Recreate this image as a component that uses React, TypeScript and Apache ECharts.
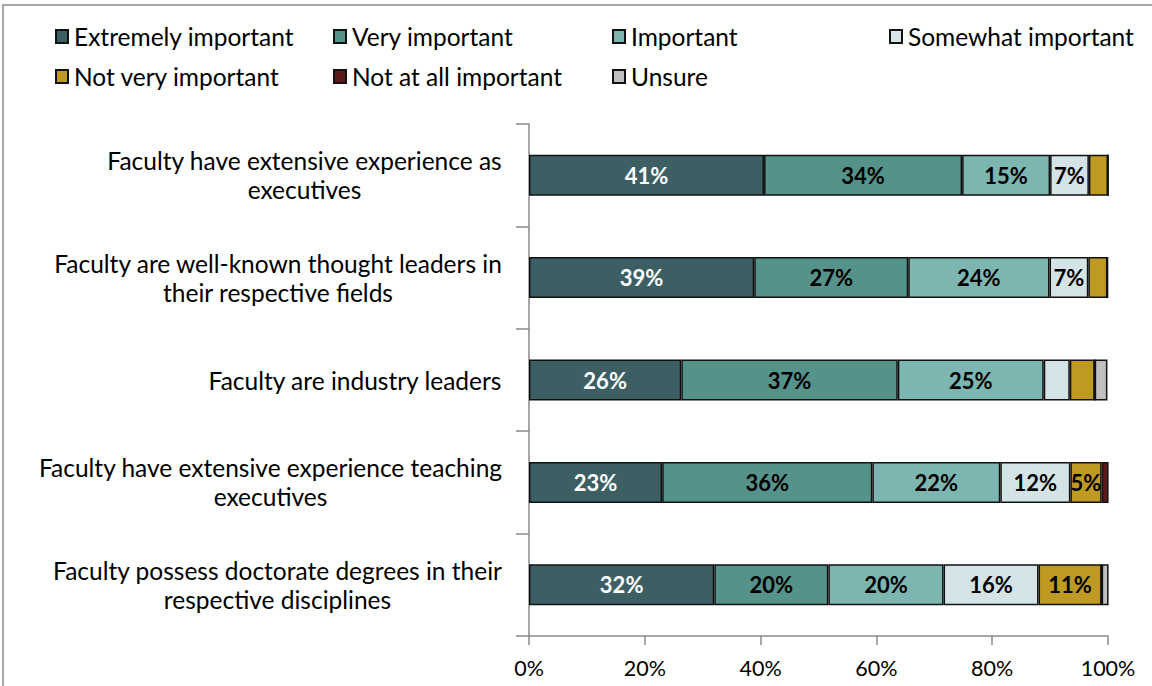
import React, { useEffect, useRef } from "react";
import * as echarts from "echarts";

const categories = [
  "Faculty have extensive experience as\nexecutives",
  "Faculty are well-known thought leaders in\ntheir respective fields",
  "Faculty are industry leaders",
  "Faculty have extensive experience teaching\nexecutives",
  "Faculty possess doctorate degrees in their\nrespective disciplines",
];

const seriesNames = [
  "Extremely important",
  "Very important",
  "Important",
  "Somewhat important",
  "Not very important",
  "Not at all important",
  "Unsure",
];

const extremely = [40.6, 38.9, 26.3, 23.0, 32.0];
const very = [34.2, 26.6, 37.4, 36.3, 19.7];
const important = [15.2, 24.4, 25.2, 22.1, 19.9];
const somewhat = [6.7, 6.7, 4.5, 12.1, 16.4];
const notVery = [3.3, 3.3, 4.3, 5.4, 10.9];
const notAtAll = [0, 0, 0, 1.2, 0];
const unsure = [0, 0, 2.2, 0, 1.2];

const seriesValues = [extremely, very, important, somewhat, notVery, notAtAll, unsure];
const colors = ["#3D5F64", "#55928A", "#7DB6B0", "#D3E3E6", "#BE9A22", "#5A1A1A", "#BFBFBF"];
const xTicks = [0, 20, 40, 60, 80, 100];

const FONT = "Lato";

export default function App() {
  const ref = useRef<HTMLDivElement>(null);
  useEffect(() => {
    if (!ref.current) return;
    const chart = echarts.init(ref.current, undefined, { renderer: "svg" });

    const catFontSize = 24.5;
    const canvas = document.createElement("canvas");
    const ctx = canvas.getContext("2d")!;
    ctx.font = `${catFontSize}px "${FONT}"`;
    const rich: any = {};
    categories.forEach((c, i) => {
      const w = Math.max(...c.split("\n").map((l) => ctx.measureText(l).width));
      rich["r" + i] = {
        width: Math.ceil(w) + 1,
        align: "center",
        fontSize: catFontSize,
        fontFamily: FONT,
        color: "#000",
        lineHeight: 29,
      };
    });

    const legendPos = [
      [55, 24],
      [333, 24],
      [612, 24],
      [889, 24],
      [55, 64],
      [333, 64],
      [612, 64],
    ];

    chart.setOption({
      animation: false,
      textStyle: { fontFamily: FONT },
      graphic: [
        {
          type: "rect",
          shape: { x: 3, y: 5, width: 1200, height: 720 },
          style: { fill: "none", stroke: "#8a8a8a", lineWidth: 1.5 },
          silent: true,
        },
      ],
      legend: seriesNames.map((n, i) => ({
        data: [n],
        left: legendPos[i][0],
        top: legendPos[i][1],
        padding: 0,
        icon: "rect",
        itemWidth: 12,
        itemHeight: 13,
        textStyle: { fontSize: 24.5, fontFamily: FONT, color: "#000", padding: [0, 0, 0, 1] },
        selectedMode: false,
      })),
      grid: { left: 529, right: 44, top: 124, bottom: 50, containLabel: false },
      xAxis: {
        type: "value",
        min: xTicks[0],
        max: xTicks[xTicks.length - 1],
        interval: 20,
        axisLine: { show: true, lineStyle: { color: "#8a8a8a", width: 1.5 } },
        axisTick: { show: true, length: 9, lineStyle: { color: "#8a8a8a", width: 1.5 } },
        splitLine: { show: false },
        axisLabel: {
          formatter: "{value}%",
          fontSize: 21.5,
          fontFamily: FONT,
          color: "#000",
          margin: 21,
        },
      },
      yAxis: {
        type: "category",
        inverse: true,
        data: categories,
        axisLine: { show: true, lineStyle: { color: "#8a8a8a", width: 1.5 } },
        axisTick: { show: true, length: 13, lineStyle: { color: "#8a8a8a", width: 1.5 } },
        axisLabel: {
          margin: 26,
          formatter: (v: string, idx: number) =>
            v
              .split("\n")
              .map((l) => `{r${idx}|${l}}`)
              .join("\n"),
          rich,
        },
      },
      series: seriesNames.map((n, si) => ({
        name: n,
        type: "bar",
        stack: "total",
        barCategoryGap: "60%",
        data: seriesValues[si],
        itemStyle: { color: colors[si], borderColor: "#111", borderWidth: 1.5 },
        label: {
          show: true,
          position: "inside",
          fontSize: 22,
          fontWeight: "bold",
          fontFamily: FONT,
          color: si === 0 ? "#fff" : "#000",
          formatter: (p: any) => (p.value >= 5 ? Math.round(p.value) + "%" : ""),
        },
      })),
    });
    return () => chart.dispose();
  }, []);
  return (
    <div
      ref={ref}
      style={{ position: "absolute", left: 0, top: 0, width: 1152, height: 686, background: "#fff" }}
    />
  );
}
